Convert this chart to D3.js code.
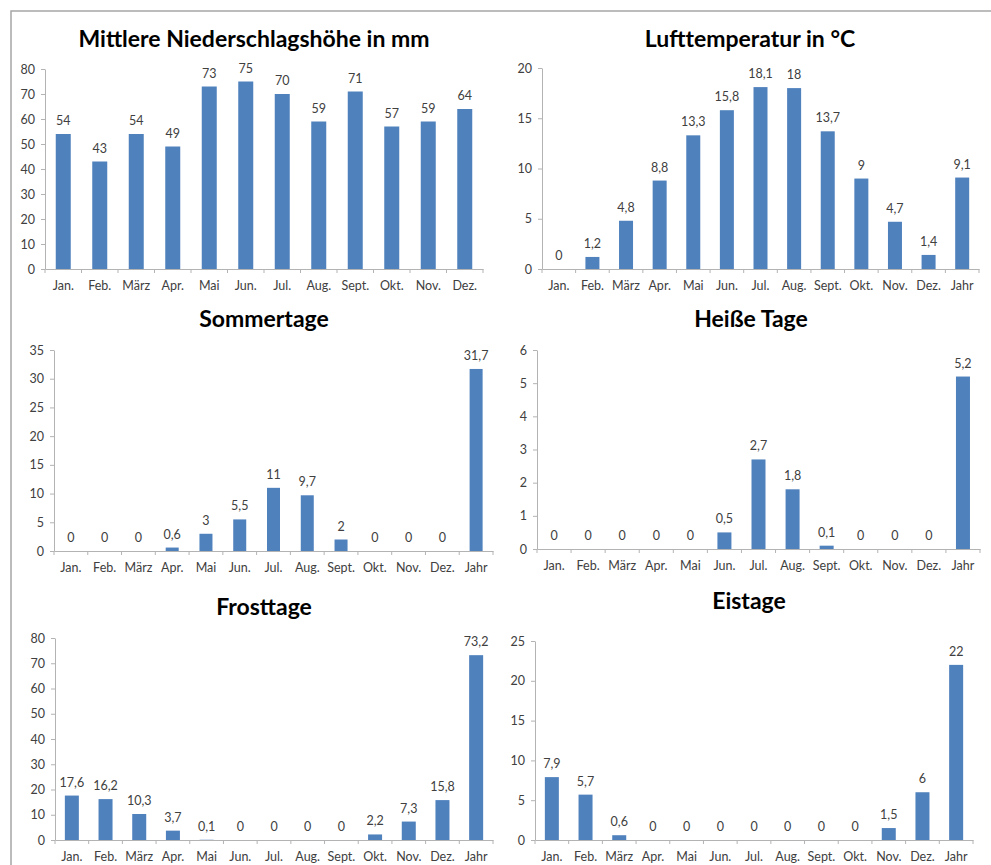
<!DOCTYPE html>
<html><head><meta charset="utf-8">
<script src="https://cdn.jsdelivr.net/npm/d3@7"></script>
<style>
html,body{margin:0;padding:0;background:#fff;}
svg{display:block;font-family:Lato,"Open Sans",sans-serif;}
</style></head>
<body>
<svg id="c" width="991" height="865"></svg>
<script>
const months12 = ["Jan.","Feb.","März","Apr.","Mai","Jun.","Jul.","Aug.","Sept.","Okt.","Nov.","Dez."];
const months13 = ["Jan.","Feb.","März","Apr.","Mai","Jun.","Jul.","Aug.","Sept.","Okt.","Nov.","Dez.","Jahr"];

const niederschlag = [54,43,54,49,73,75,70,59,71,57,59,64];
const lufttemperatur = [0,1.2,4.8,8.8,13.3,15.8,18.1,18,13.7,9,4.7,1.4,9.1];
const sommertage = [0,0,0,0.6,3,5.5,11,9.7,2,0,0,0,31.7];
const heisseTage = [0,0,0,0,0,0.5,2.7,1.8,0.1,0,0,0,5.2];
const frosttage = [17.6,16.2,10.3,3.7,0.1,0,0,0,0,2.2,7.3,15.8,73.2];
const eistage = [7.9,5.7,0.6,0,0,0,0,0,0,0,1.5,6,22];

const ticksNieder = [0,10,20,30,40,50,60,70,80];
const ticksLuft = [0,5,10,15,20];
const ticksSommer = [0,5,10,15,20,25,30,35];
const ticksHeiss = [0,1,2,3,4,5,6];
const ticksFrost = [0,10,20,30,40,50,60,70,80];
const ticksEis = [0,5,10,15,20,25];

const titles = ["Mittlere Niederschlagshöhe in mm","Lufttemperatur in °C","Sommertage","Heiße Tage","Frosttage","Eistage"];

const svg = d3.select("#c");
const BAR = "#4f81bd", AXIS = "#b3b3b3", TXT = "#404040";

// outer frame
svg.append("path").attr("d","M11,866 V11 H992").attr("fill","none").attr("stroke","#a6a6a6").attr("stroke-width",1.5);

const panels = [
  {title:titles[0], cats:months12, vals:niederschlag, ticks:ticksNieder, x0:45, x1:483, y0:269, y1:69, tx:254, ty:47, bw:15},
  {title:titles[1], cats:months13, vals:lufttemperatur, ticks:ticksLuft, x0:542, x1:979, y0:269, y1:68, tx:750, ty:47, bw:14},
  {title:titles[2], cats:months13, vals:sommertage, ticks:ticksSommer, x0:54, x1:493, y0:551, y1:350, tx:264, ty:327, bw:13},
  {title:titles[3], cats:months13, vals:heisseTage, ticks:ticksHeiss, x0:537, x1:980, y0:549, y1:350, tx:751, ty:327, bw:14},
  {title:titles[4], cats:months13, vals:frosttage, ticks:ticksFrost, x0:55, x1:493, y0:840, y1:638, tx:264, ty:615, bw:14},
  {title:titles[5], cats:months13, vals:eistage, ticks:ticksEis, x0:535, x1:973, y0:840, y1:641, tx:749, ty:609, bw:14}
];

const fmt = v => String(v).replace(".", ",");

panels.forEach(p => {
  const g = svg.append("g");
  const x = d3.scaleBand().domain(p.cats).range([p.x0, p.x1]).paddingInner(0.6).paddingOuter(0.3);
  const y = d3.scaleLinear().domain([d3.min(p.ticks), d3.max(p.ticks)]).range([p.y0, p.y1]);

  g.append("text").attr("x", p.tx).attr("y", p.ty).attr("text-anchor","middle")
    .attr("font-size", 23).attr("font-weight","bold").attr("fill","#000").text(p.title);

  // y axis
  const ya = g.append("g").attr("transform",`translate(${p.x0},0)`)
    .call(d3.axisLeft(y).tickValues(p.ticks).tickSize(4).tickSizeOuter(0).tickPadding(6).tickFormat(fmt));
  // x axis
  const xa = g.append("g").attr("transform",`translate(0,${p.y0})`)
    .call(d3.axisBottom(x).tickSize(0).tickPadding(12).tickSizeOuter(0));
  [ya, xa].forEach(a => {
    a.select(".domain").attr("stroke", AXIS).attr("stroke-width",1);
    a.selectAll(".tick line").attr("stroke", AXIS);
    a.selectAll("text").attr("fill", TXT).attr("font-size", 12.5).attr("font-family","Lato,'Open Sans',sans-serif");
  });
  // category separator ticks on x axis
  const step = x.step();
  const bounds = d3.range(p.cats.length + 1).map(i => p.x0 + i * step);
  g.selectAll(".sep").data(bounds).join("line")
    .attr("x1", d => d).attr("x2", d => d).attr("y1", p.y0).attr("y2", p.y0 + 4)
    .attr("stroke", AXIS);

  g.selectAll(".bar").data(p.vals).join("rect")
    .attr("x", (d,i) => x(p.cats[i]) + x.bandwidth()/2 - p.bw/2)
    .attr("width", p.bw)
    .attr("y", d => y(d))
    .attr("height", d => p.y0 - y(d))
    .attr("fill", BAR);

  g.selectAll(".lab").data(p.vals).join("text")
    .attr("x", (d,i) => x(p.cats[i]) + x.bandwidth()/2)
    .attr("y", d => y(d) - 9)
    .attr("text-anchor","middle").attr("font-size", 12.5).attr("fill", TXT)
    .text(fmt);
});
</script>
</body></html>
